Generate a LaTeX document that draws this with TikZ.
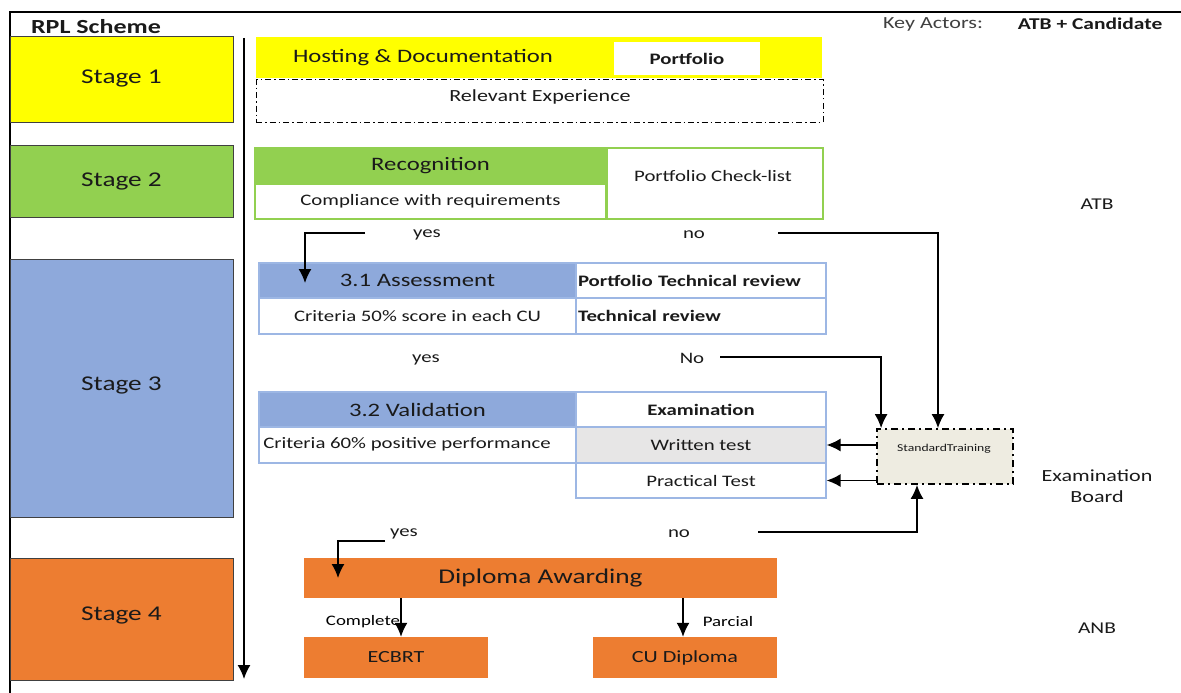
\documentclass[tikz,border=0pt]{standalone}
\usepackage{fontspec}
\setmainfont{Carlito}[FakeStretch=1.3]
\usetikzlibrary{arrows.meta,positioning}
\definecolor{stgyellow}{HTML}{FFFF00}
\definecolor{stggreen}{HTML}{92D050}
\definecolor{stgblue}{HTML}{8EA9DB}
\definecolor{stgorange}{HTML}{ED7D31}
\definecolor{cellgrey}{HTML}{E7E6E6}
\definecolor{cellblue}{HTML}{9DB7E4}
\definecolor{trainbg}{HTML}{EEECE1}
\definecolor{txt}{HTML}{1A1A1A}
\newcommand{\fsz}[1]{\fontsize{#1}{#1}\selectfont}
\begin{document}
\begin{tikzpicture}[x=1pt,y=-1pt,text=txt,
  >={Latex[length=14pt,width=13pt]},
  arr/.style={->,line width=1.5pt},
  stagebox/.style={draw=black!75,line width=1pt,minimum width=223pt,font=\fsz{21}},
  greencell/.style={draw=stggreen,line width=1.2pt,inner sep=0pt,font=\fsz{16}},
  bluecell/.style={draw=cellblue,line width=1.2pt,inner sep=0pt,font=\fsz{16}},
  lbl/.style={font=\fsz{16}}]
\useasboundingbox (0,0) rectangle (1181,693);
%frame, title and key actors
\draw[line width=1.5pt] (10,693) -- (10,12) -- (1181,12);
\node[font=\bfseries\fsz{20}] (title) at (96,27) {RPL Scheme};
\node[font=\fsz{17},text=black!75] (keyact) at (933,24) {Key Actors:};
\node[font=\bfseries\fsz{16.5}] (actors) at (1090,24) {ATB + Candidate};
%stages on the left
\node[stagebox,fill=stgyellow,minimum height=85pt] (st1) at (121.5,79.5) {\raisebox{5pt}{Stage 1}};
\node[stagebox,fill=stggreen,minimum height=72pt] (st2) at (121.5,181) {Stage 2};
\node[stagebox,fill=stgblue,minimum height=258pt] (st3) at (121.5,388) {\raisebox{8pt}{Stage 3}};
\node[stagebox,fill=stgorange,minimum height=122pt] (st4) at (121.5,619) {\raisebox{11pt}{Stage 4}};
%time line
\coordinate (tstart) at (244,38); \coordinate (tend) at (244,679);
\draw[arr] (tstart) -- (tend);
%stage 1: hosting
\node[fill=stgyellow,minimum width=566pt,minimum height=41pt] (host) at (539,57.5) {};
\node[font=\fsz{19}] (hosttxt) at (423,58) {Hosting \& Documentation};
\node[fill=white,minimum width=146pt,minimum height=33pt,font=\bfseries\fsz{16}] (portf) at (687,58.5) {Portfolio};
\node[draw,line width=1pt,dash pattern=on 6pt off 3pt on 1.5pt off 3pt,minimum width=567pt,minimum height=42pt] (relexp) at (539.5,101) {};
\node[font=\fsz{17}] (relexptxt) at (540,97) {Relevant Experience};
%stage 2: recognition
\node[greencell,fill=stggreen,minimum width=351pt,minimum height=36pt,font=\fsz{19}] (recog) at (430.5,166) {Recognition};
\node[greencell,minimum width=351pt,minimum height=35pt] (compl) at (430.5,201.5) {Compliance with requirements};
\node[greencell,minimum width=216pt,minimum height=71pt] (check) at (715,183.5) {};
\node[lbl] (checktxt) at (713,176) {Portfolio Check-list};
%stage 3.1: assessment
\node[bluecell,fill=stgblue,minimum width=317pt,minimum height=35pt,font=\fsz{19}] (a31) at (417.5,280.5) {3.1 Assessment};
\node[bluecell,minimum width=317pt,minimum height=36pt] (crit50) at (417.5,316) {Criteria 50\% score in each CU};
\node[bluecell,minimum width=250pt,minimum height=35pt,text width=246pt,align=left,font=\bfseries\fsz{16}] (ptrev) at (701,280.5) {Portfolio Technical review};
\node[bluecell,minimum width=250pt,minimum height=36pt,text width=246pt,align=left,font=\bfseries\fsz{16}] (trev) at (701,316) {Technical review};
%stage 3.2: validation
\node[bluecell,fill=stgblue,minimum width=317pt,minimum height=35pt,font=\fsz{19}] (v32) at (417.5,409.5) {3.2 Validation};
\node[bluecell,minimum width=317pt,minimum height=36pt] (crit60) at (417.5,445) {};
\node[lbl] (crit60txt) at (407,444) {Criteria 60\% positive performance};
\node[bluecell,minimum width=250pt,minimum height=35pt,font=\bfseries\fsz{16}] (exam) at (701,409.5) {Examination};
\node[bluecell,fill=cellgrey,minimum width=250pt,minimum height=36pt] (wtest) at (701,445) {Written test};
\node[bluecell,minimum width=250pt,minimum height=35pt] (ptest) at (701,480.5) {Practical Test};
%standard training
\node[draw,fill=trainbg,line width=1.8pt,dash pattern=on 7pt off 4pt on 2pt off 4pt,minimum width=136pt,minimum height=55pt] (stdtr) at (945,456.5) {};
\node[font=\fsz{10.5}] (stdtrtxt) at (944,449) {StandardTraining};
%stage 4: diploma
\node[fill=stgorange,minimum width=473pt,minimum height=40pt,font=\fsz{21}] (dipl) at (540.5,578) {Diploma Awarding};
\node[fill=stgorange,minimum width=184pt,minimum height=41pt,font=\fsz{17}] (ecbrt) at (396,657.5) {ECBRT};
\node[fill=stgorange,minimum width=184pt,minimum height=41pt,font=\fsz{17}] (cudip) at (685,657.5) {CU Diploma};
%decision labels
\node[lbl] (yes1) at (427,235) {yes};
\node[lbl] (no1) at (694,235) {no};
\node[lbl] (yes2) at (426,360) {yes};
\node[lbl] (no2) at (692,358) {No};
\node[lbl] (yes3) at (404,534) {yes};
\node[lbl] (no3) at (679,534) {no};
\node[font=\fsz{14.5},text=black] (compl4) at (363,622) {Complete};
\node[font=\fsz{14.5},text=black] (parc4) at (728,622) {Parcial};
%actors on the right
\node[font=\fsz{16.5}] (atb) at (1097,204) {ATB};
\node[font=\fsz{17},align=center] (exbo) at (1097,486) {Examination\\[4pt]Board};
\node[font=\fsz{16.5}] (anb) at (1097,628) {ANB};
%connectors
\coordinate (yes1s) at (365,233); \coordinate (a31in) at (305,283);
\draw[arr] (yes1s) -| (a31in);
\coordinate (no1s) at (778,233);
\draw[arr] (no1s) -| ([xshift=-7pt]stdtr.north);
\coordinate (no2s) at (720,357);
\draw[arr] (no2s) -| ([xshift=5pt]stdtr.north west);
\draw[arr] (stdtr.west |- wtest.east) -- (wtest.east);
\draw[arr] (stdtr.west |- ptest.east) -- (ptest.east);
\coordinate (no3s) at (758,532);
\draw[arr] (no3s) -| ([xshift=-28pt]stdtr.south);
\coordinate (yes3s) at (385,541); \coordinate (diplin) at (338,578);
\draw[arr] (yes3s) -| (diplin);
\draw[arr] ([xshift=5pt]ecbrt.north |- dipl.south) -- ([xshift=5pt]ecbrt.north);
\draw[arr] ([xshift=-2pt]cudip.north |- dipl.south) -- ([xshift=-2pt]cudip.north);
\end{tikzpicture}
\end{document}
